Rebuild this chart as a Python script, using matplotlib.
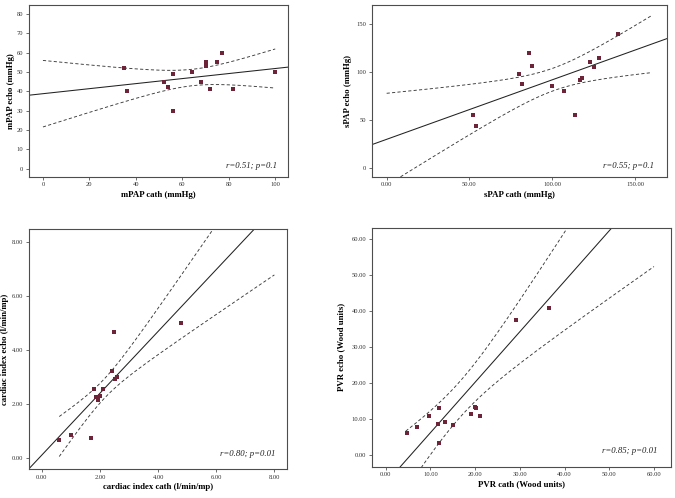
import numpy as np
import matplotlib
matplotlib.use("Agg")
import matplotlib.pyplot as plt

plt.rcParams['font.family'] = ['Liberation Serif', 'DejaVu Serif']

# --- data ---
mpap_cath = [35, 36, 52, 54, 56, 56, 64, 68, 70, 70, 72, 75, 77, 82, 100]
mpap_echo = [52, 40, 45, 42, 49, 30, 50, 45, 55, 53, 41, 55, 60, 41, 50]

spap_cath = [52, 54, 80, 82, 86, 88, 100, 107, 114, 117, 118, 123, 125, 128, 140]
spap_echo = [55, 44, 98, 88, 120, 106, 85, 80, 55, 92, 94, 110, 105, 115, 140]

ci_cath = [0.6, 1.0, 1.7, 1.8, 1.86, 1.93, 2.0, 2.1, 2.4, 2.48, 2.52, 2.6, 4.8]
ci_echo = [0.66, 0.85, 0.72, 2.55, 2.23, 2.13, 2.27, 2.53, 3.22, 4.63, 2.9, 2.97, 4.98]

pvr_cath = [4.7, 7.0, 9.7, 11.9, 11.6, 11.9, 13.2, 15.1, 19.0, 20.0, 20.2, 21.1, 29.1, 36.5]
pvr_echo = [6.0, 7.7, 10.9, 13.0, 8.6, 3.4, 9.2, 8.2, 11.5, 13.2, 13.1, 10.9, 37.4, 40.9]

# fitted lines as drawn in the figure (mpap, spap, cardiac index, pvr)
fit_intercept = [38.8, 30.0, 0.09, -7.89]
fit_slope = [0.130, 0.619, 1.145, 1.405]
# 95% CI band: centre x, half-width at centre, growth of half-width
band_center = [64.5, 100.9, 2.14, 16.5]
band_min = [4.24, 11.8, 0.36, 5.0]
band_growth = [0.258, 0.46, 0.42, 0.54]
# x range over which the band is drawn
band_from = [0, 0, 0.6, 4.5]
band_to = [100, 160, 8, 60]

MARKER = '#6e2438'
FRAME = '#4d4d4d'


def panel(ax, i, x, y, xlim, ylim, xticks, yticks, xfmt, yfmt, xlabel, ylabel, note, ylab_x):
    a, b = fit_intercept[i], fit_slope[i]
    xl = np.linspace(xlim[0], xlim[1], 50)
    ax.plot(xl, a + b * xl, color='#222222', lw=0.75)

    xb = np.linspace(band_from[i], band_to[i], 200)
    half = np.sqrt(band_min[i] ** 2 + (band_growth[i] * (xb - band_center[i])) ** 2)
    for sign in (1, -1):
        ax.plot(xb, a + b * xb + sign * half, color='#3a3a3a', lw=0.65,
                ls=(0, (3.5, 2.5)))

    ax.scatter(x, y, marker='s', s=9, color=MARKER, zorder=3, linewidths=0)

    ax.set_xlim(xlim)
    ax.set_ylim(ylim)
    ax.set_xticks(xticks)
    ax.set_yticks(yticks)
    ax.set_xticklabels([xfmt.format(v) for v in xticks])
    ax.set_yticklabels([yfmt.format(v) for v in yticks])
    ax.tick_params(labelsize=4.7, length=2, width=0.5, colors='#333333', pad=2)
    for sp in ax.spines.values():
        sp.set_color(FRAME)
        sp.set_linewidth(0.8)
    ax.set_xlabel(xlabel, fontsize=6.3, fontweight='bold', labelpad=2.5)
    ax.set_ylabel(ylabel, fontsize=6.3, fontweight='bold')
    ax.yaxis.set_label_coords(ylab_x, 0.5)
    ax.text(0.955, 0.065, note, transform=ax.transAxes, ha='right', va='center',
            fontsize=6.3, style='italic', color='#222222')


fig = plt.figure(figsize=(6.75, 4.98), dpi=100)

ax1 = fig.add_axes([0.043, 0.645, 0.384, 0.345])
panel(ax1, 0, mpap_cath, mpap_echo, (-6, 105.6), (-4.1, 84.6),
      [0, 20, 40, 60, 80, 100], [0, 10, 20, 30, 40, 50, 60, 70, 80],
      '{:.0f}', '{:.0f}', 'mPAP cath (mmHg)', 'mPAP echo (mmHg)', 'r=0.51; p=0.1',
      -0.056)

ax2 = fig.add_axes([0.551, 0.645, 0.437, 0.345])
panel(ax2, 1, spap_cath, spap_echo, (-8.9, 169.3), (-9, 169.8),
      [0, 50, 100, 150], [0, 50, 100, 150], '{:.2f}', '{:.0f}',
      'sPAP cath (mmHg)', 'sPAP echo (mmHg)', 'r=0.55; p=0.1', -0.069)

ax3 = fig.add_axes([0.043, 0.058, 0.382, 0.482])
panel(ax3, 2, ci_cath, ci_echo, (-0.44, 8.43), (-0.43, 8.46),
      [0, 2, 4, 6, 8], [0, 2, 4, 6, 8], '{:.2f}', '{:.2f}',
      'cardiac index cath (l/min/mp)', 'cardiac index echo (l/min/mp)',
      'r=0.80; p=0.01', -0.076)

ax4 = fig.add_axes([0.551, 0.063, 0.443, 0.479])
panel(ax4, 3, pvr_cath, pvr_echo, (-3.07, 63.8), (-3.26, 63.1),
      [0, 10, 20, 30, 40, 50, 60], [0, 10, 20, 30, 40, 50, 60], '{:.2f}', '{:.2f}',
      'PVR cath (Wood units)', 'PVR echo (Wood units)', 'r=0.85; p=0.01', -0.091)

fig.savefig('out.png', dpi=100)
